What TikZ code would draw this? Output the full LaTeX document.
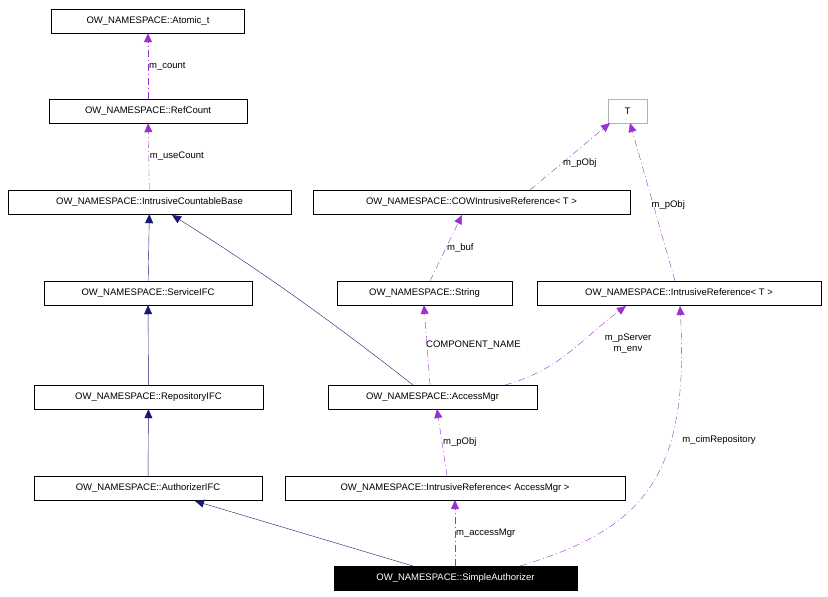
\documentclass[tikz,border=0pt]{standalone}
\usepackage{fontspec}
\setmainfont{Liberation Sans}
\usetikzlibrary{arrows.meta}
\definecolor{pur}{HTML}{9A32CD}
\definecolor{nav}{HTML}{191970}
\begin{document}
\begin{tikzpicture}[x=1pt,y=-1pt,font=\fontsize{9.5}{11}\selectfont,
 box/.style={draw,minimum height=24pt,inner sep=0pt,anchor=center},
 inh/.style={draw=nav,-{Triangle[length=9pt,width=8pt,fill=nav]}},
 use/.style={draw=pur,dash pattern=on 7pt off 3pt on 1pt off 3pt,-{Triangle[length=9pt,width=8pt,fill=pur]}},
 lab/.style={inner sep=1pt,align=center}]
\useasboundingbox (0,0) rectangle (828,597);
\node[box,minimum width=193pt] (at) at (148,21) {OW\_NAMESPACE::Atomic\_t};
\node[box,minimum width=198pt] (rc) at (148,111) {OW\_NAMESPACE::RefCount};
\node[box,minimum width=283pt] (icb) at (149.5,202) {OW\_NAMESPACE::IntrusiveCountableBase};
\node[box,minimum width=208pt] (sv) at (148,293) {OW\_NAMESPACE::ServiceIFC};
\node[box,minimum width=229pt] (rp) at (148.5,397) {OW\_NAMESPACE::RepositoryIFC};
\node[box,minimum width=228pt] (au) at (148,488) {OW\_NAMESPACE::AuthorizerIFC};
\node[box,minimum width=243pt,fill=black,text=white] (sa) at (455.5,578) {OW\_NAMESPACE::SimpleAuthorizer};
\node[box,draw=gray!60,minimum width=39pt] (t) at (627.5,111) {T};
\node[box,minimum width=317pt] (cow) at (471.5,202) {OW\_NAMESPACE::COWIntrusiveReference< T >};
\node[box,minimum width=175pt] (st) at (424.5,293) {OW\_NAMESPACE::String};
\node[box,minimum width=284pt] (irt) at (679,293) {OW\_NAMESPACE::IntrusiveReference< T >};
\node[box,minimum width=209pt] (am) at (432.5,397) {OW\_NAMESPACE::AccessMgr};
\node[box,minimum width=340pt] (ira) at (455,488) {OW\_NAMESPACE::IntrusiveReference< AccessMgr >};
\coordinate (c1) at (413,385); \coordinate (c2) at (413,566);
\coordinate (c3) at (505,385); \coordinate (c4) at (520,566);
\draw[use] (rc) -- node[lab,right]{m\_count} (at);
\draw[use] (icb) -- node[lab,right]{m\_useCount} (rc);
\draw[inh] (sv) -- (icb);
\draw[inh] (rp) -- (sv);
\draw[inh] (au) -- (rp);
\draw[inh] (c2) -- (195,501);
\draw[inh] (c1) .. controls (330,320) and (260,270) .. (172,215);
\draw[use] (530,190) -- node[lab,pos=0.4,right]{m\_pObj} (610,123);
\draw[use] (675,281) -- node[lab,pos=0.48,right=-3pt]{m\_pObj} (630,123);
\draw[use] (430,281) -- node[lab,right]{m\_buf} (462,215);
\draw[use] (430,385) -- node[lab,pos=0.5,right=-2pt]{COMPONENT\_NAME} (424,305);
\draw[use] (c3) .. controls (560,370) and (580,340) .. (626,306);
\node[lab] at (628,344) {m\_pServer\\m\_env};
\draw[use] (447,476) -- node[lab,right]{m\_pObj} (437,409);
\draw[use] (455,566) -- node[lab,right]{m\_accessMgr} (455,500);
\draw[use] (c4) .. controls (640,530) and (690,480) .. (680,306);
\node[lab] at (719,440) {m\_cimRepository};
\end{tikzpicture}
\end{document}
